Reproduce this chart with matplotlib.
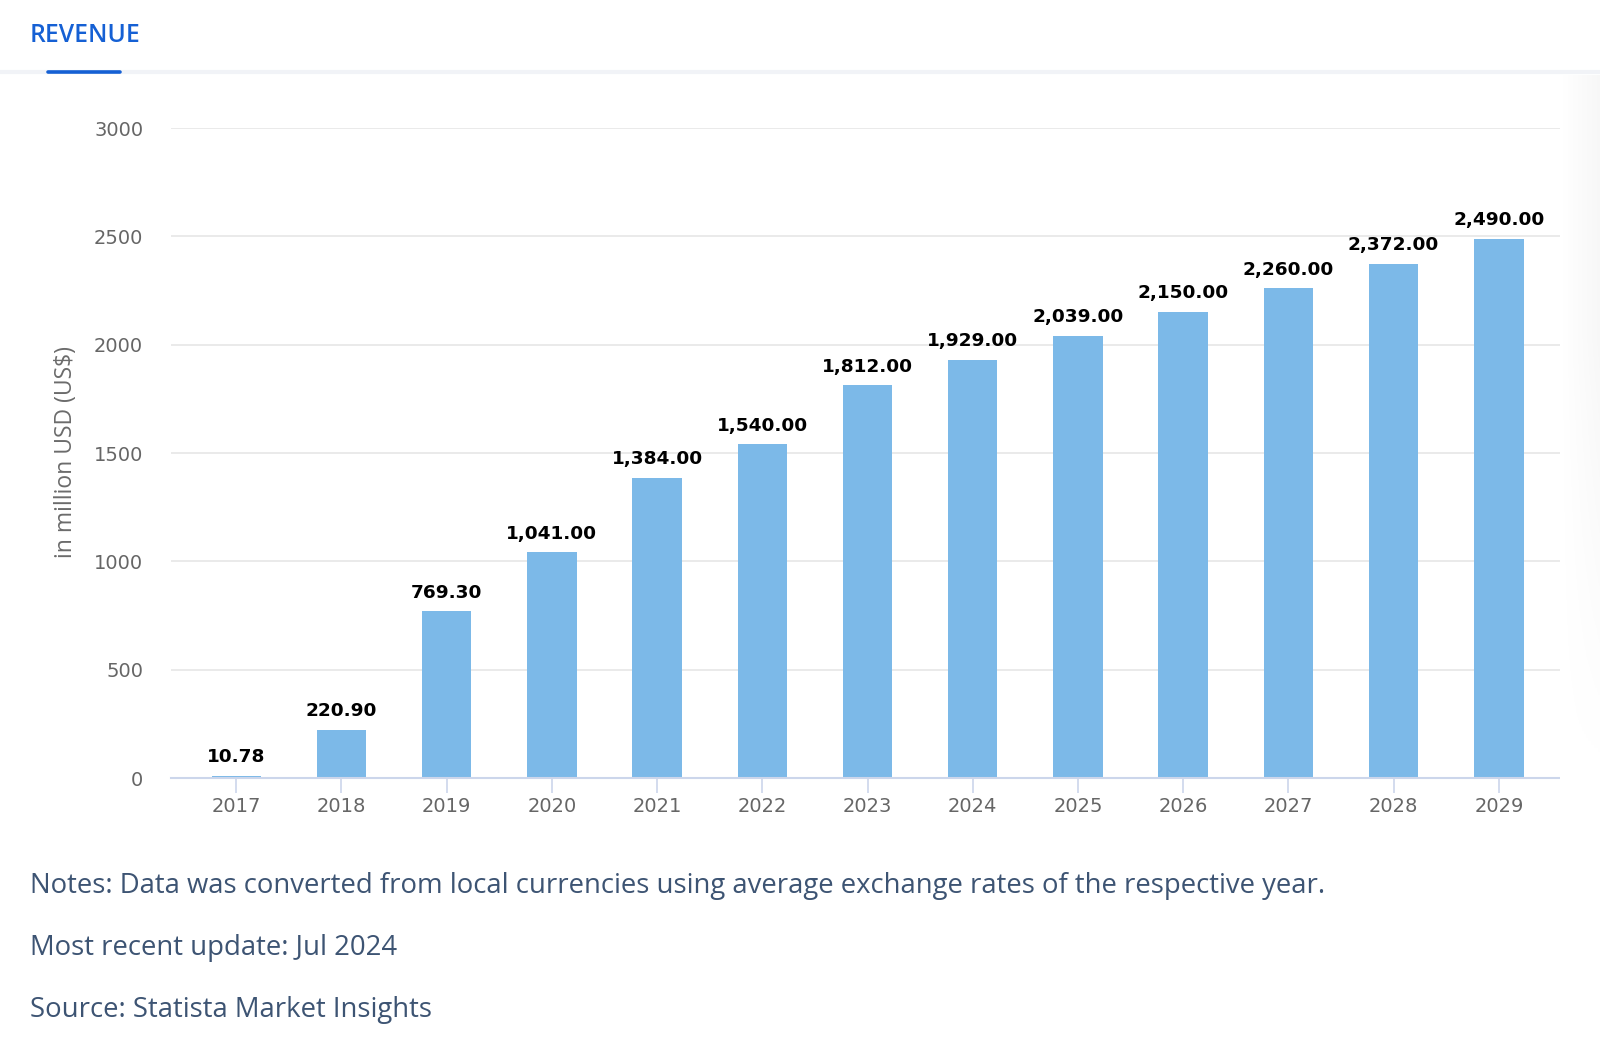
import matplotlib.pyplot as plt
import numpy as np

# data
years = ['2017', '2018', '2019', '2020', '2021', '2022', '2023',
         '2024', '2025', '2026', '2027', '2028', '2029']
revenue = [10.78, 220.90, 769.30, 1041.00, 1384.00, 1540.00, 1812.00,
           1929.00, 2039.00, 2150.00, 2260.00, 2372.00, 2490.00]
y_ticks = [0, 500, 1000, 1500, 2000, 2500, 3000]

notes = ['Notes: Data was converted from local currencies using average exchange rates of the respective year.',
         'Most recent update: Jul 2024',
         'Source: Statista Market Insights']

W, H = 1600, 1038
fig = plt.figure(figsize=(W / 100, H / 100), dpi=100)
fig.patch.set_facecolor('white')

# plot area in pixels
left, right, top, bottom = 171, 1563, 128, 778
ax = fig.add_axes([left / W, 1 - bottom / H, (right - left) / W, (bottom - top) / H])

x = np.arange(len(years))
bars = ax.bar(x, revenue, width=0.47, color='#7cb9e8', zorder=2)

for xi, v in zip(x, revenue):
    ax.annotate('{:,.2f}'.format(v), (xi, v), xytext=(0, 7), textcoords='offset points',
                ha='center', va='bottom', fontsize=13.3, fontweight='bold',
                family='DejaVu Sans', color='#000000')

ax.set_xlim(-0.62, 12.61)
ax.set_ylim(0, 3000)
ax.set_yticks(y_ticks)
ax.set_yticklabels([str(t) for t in y_ticks])
ax.set_xticks(x)
ax.set_xticklabels(years)

ax.grid(axis='y', color='#e6e6e6', linewidth=1.2, zorder=0)
ax.set_axisbelow(True)
for s in ['top', 'right', 'left']:
    ax.spines[s].set_visible(False)
ax.spines['bottom'].set_color('#ccd6eb')
ax.spines['bottom'].set_linewidth(1.5)
ax.spines['bottom'].set_zorder(3)

ax.tick_params(axis='x', length=11, width=1.2, color='#ccd6eb', pad=3,
               labelsize=14, labelcolor='#666666')
ax.tick_params(axis='y', length=0, pad=20, labelsize=14, labelcolor='#666666')

# y axis title
fig.text(66 / W, 1 - 452 / H, 'in million USD (US$)', rotation=90, ha='center', va='center',
         fontsize=16.5, family='Open Sans', color='#6b6b6b')

# tab header
fig.text(30 / W, 1 - 36 / H, 'REVENUE', ha='left', va='center', fontsize=17.8,
         family='Open Sans', fontweight='semibold', color='#1560d4')
fig.add_artist(plt.Line2D([0, 1], [1 - 72 / H, 1 - 72 / H], color='#f1f3f7', linewidth=3))
fig.add_artist(plt.Line2D([48 / W, 120 / W], [1 - 71.5 / H, 1 - 71.5 / H],
                          color='#1560d4', linewidth=2.6, solid_capstyle='round'))

# right edge shadow, fading out towards the bottom
gx = np.linspace(0, 1, 40)
gy = np.clip(np.linspace(1.6, 0, 200), 0, 1)
shade = fig.add_axes([1560 / W, 1 - 780 / H, 40 / W, 705 / H])
shade.imshow(np.outer(gy, gx), aspect='auto', cmap='Greys',
             vmin=0, vmax=16, extent=[0, 1, 0, 1])
shade.axis('off')

# notes
for i, line in enumerate(notes):
    fig.text(30 / W, 1 - (886 + 62 * i) / H, line, ha='left', va='center', fontsize=19.8,
             family='Open Sans', color='#3d5473')

fig.savefig('out.png', dpi=100)
